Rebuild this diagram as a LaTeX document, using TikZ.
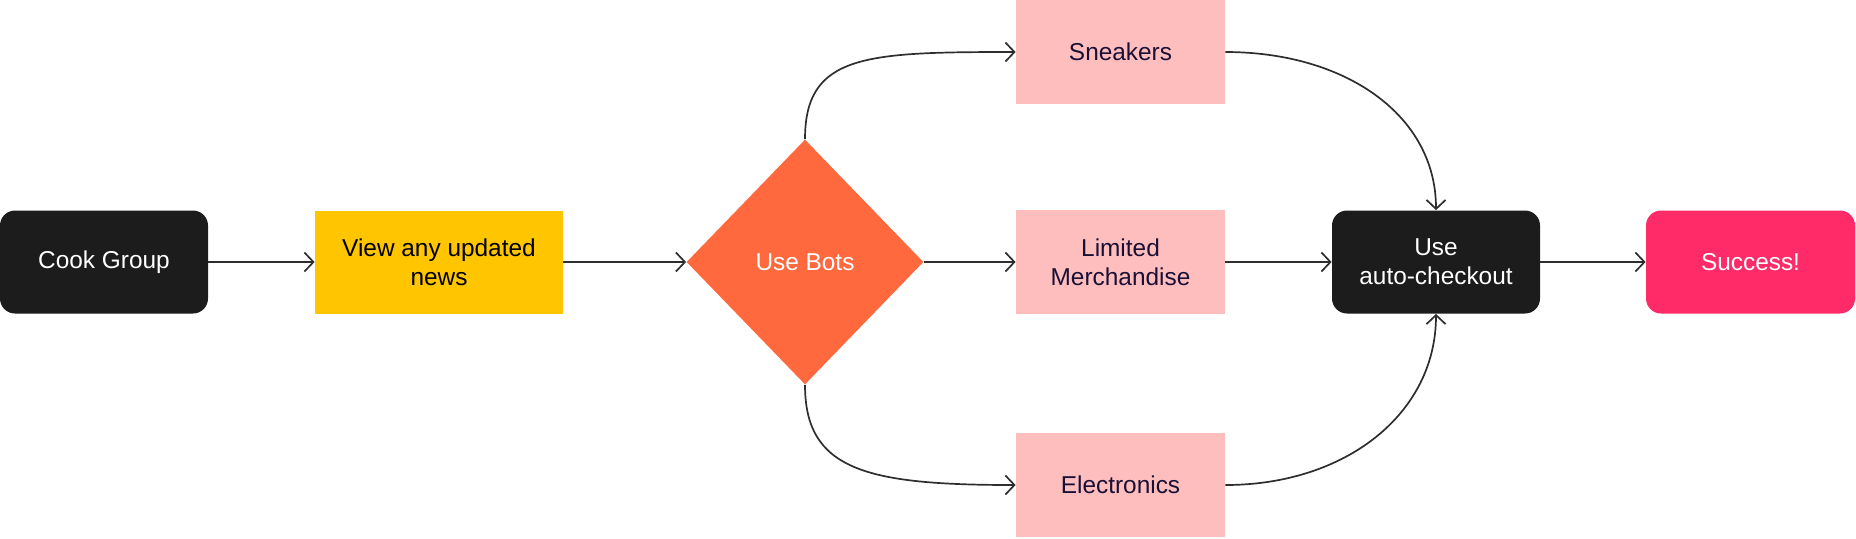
\documentclass[tikz,border=0pt]{standalone}
\usepackage{fontspec}
\setmainfont{Liberation Sans}
\usetikzlibrary{shapes.geometric,arrows.meta}
\definecolor{boxblack}{HTML}{1C1C1C}
\definecolor{boxyellow}{HTML}{FFC600}
\definecolor{boxorange}{HTML}{FF693D}
\definecolor{boxpink}{HTML}{FFBEBE}
\definecolor{boxmagenta}{HTML}{FF2A68}
\definecolor{pinktext}{HTML}{1A1035}
\definecolor{linecol}{HTML}{2E2E2E}
\tikzset{
  base/.style={inner sep=0pt, align=center, font=\fontsize{12.2}{14.5}\selectfont},
  darkbox/.style={base, rectangle, rounded corners=7.5pt, fill=boxblack, text=white, minimum width=104pt, minimum height=51.5pt},
  yellowbox/.style={base, rectangle, fill=boxyellow, text=black, minimum width=124pt, minimum height=51.5pt},
  pinkbox/.style={base, rectangle, fill=boxpink, text=pinktext, minimum width=104.5pt, minimum height=52pt},
  decision/.style={base, diamond, fill=boxorange, text=white, minimum width=118.5pt, minimum height=122.5pt},
  successbox/.style={base, rectangle, rounded corners=7.5pt, fill=boxmagenta, text=white, minimum width=104.5pt, minimum height=51.5pt},
  conn/.style={draw=linecol, line width=0.85pt, -{Straight Barb[length=4.5pt,width=9.5pt]}}
}
\begin{document}
\begin{tikzpicture}[x=0.5pt,y=-0.5pt]
\useasboundingbox (0,0) rectangle (1856,538);
\node[darkbox] (cook) at (104,262) {Cook Group};
\node[yellowbox] (view) at (439,262) {View any updated\\news};
\node[decision] (bots) at (805,262) {Use Bots};
\node[pinkbox] (sneak) at (1120.5,52) {Sneakers};
\node[pinkbox] (limited) at (1120.5,262) {Limited\\Merchandise};
\node[pinkbox] (elec) at (1120.5,485) {Electronics};
\node[darkbox] (auto) at (1436,262) {Use\\auto-checkout};
\node[successbox] (succ) at (1750.5,262) {Success!};

\draw[conn] (cook.east) -- (view.west);
\draw[conn] (view.east) -- (bots.west);
\draw[conn] (bots.east) -- (limited.west);
\draw[conn] (bots.north) .. controls +(0,-85) and +(-150,0) .. (sneak.west);
\draw[conn] (bots.south) .. controls +(0,85) and +(-150,0) .. (elec.west);
\draw[conn] (limited.east) -- (auto.west);
\draw[conn] (sneak.east) .. controls +(120,0) and +(0,-95) .. (auto.north);
\draw[conn] (elec.east) .. controls +(120,0) and +(0,100) .. (auto.south);
\draw[conn] (auto.east) -- (succ.west);
\end{tikzpicture}
\end{document}
